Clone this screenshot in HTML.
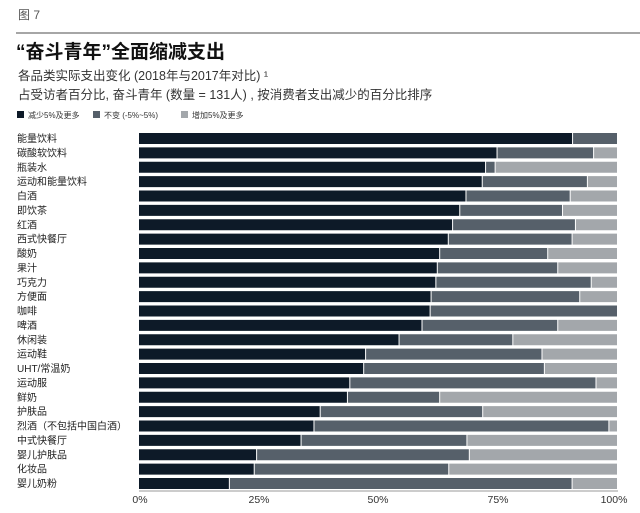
<!DOCTYPE html>
<html><head><meta charset="utf-8"><style>
body{margin:0;background:#fff;}
svg text{font-family:"Liberation Sans","Noto Sans CJK SC",sans-serif;}
</style></head><body>
<svg width="640" height="508" viewBox="0 0 640 508" xmlns="http://www.w3.org/2000/svg">
<rect width="640" height="508" fill="#fff"/>
<text x="18" y="19" font-size="12" fill="#555">图 7</text>
<line x1="16" y1="33" x2="640" y2="33" stroke="#888" stroke-width="1.5"/>
<text x="16" y="58" font-size="19" font-weight="bold" fill="#111">“奋斗青年”全面缩减支出</text>
<text x="18" y="80" font-size="12.5" fill="#333">各品类实际支出变化 (2018年与2017年对比) ¹</text>
<text x="18" y="99" font-size="12.5" fill="#333">占受访者百分比, 奋斗青年 (数量 = 131人) , 按消费者支出减少的百分比排序</text>
<rect x="17" y="111" width="7" height="7" fill="#0d1a28"/><text x="28" y="118" font-size="8" fill="#333">减少5%及更多</text>
<rect x="93" y="111" width="7" height="7" fill="#56606a"/><text x="104" y="118" font-size="8" fill="#333">不变 (-5%~5%)</text>
<rect x="181" y="111" width="7" height="7" fill="#a3a7ab"/><text x="192" y="118" font-size="8" fill="#333">增加5%及更多</text>
<g id="bars"></g>
<line x1="139" y1="491" x2="618" y2="491" stroke="#999" stroke-width="1"/>
<g font-size="10.5" fill="#333" text-anchor="middle">
<text x="140" y="503">0%</text><text x="259" y="503">25%</text><text x="378" y="503">50%</text><text x="498" y="503">75%</text><text x="614" y="503">100%</text>
</g>
</svg>
<script>
var d=[["能量饮料",90.6,100],["碳酸软饮料",74.8,95],["瓶装水",72.4,74.4],["运动和能量饮料",71.7,93.7],["白酒",68.3,90.1],["即饮茶",67,88.5],["红酒",65.5,91.2],["西式快餐厅",64.6,90.5],["酸奶",62.8,85.4],["果汁",62.3,87.5],["巧克力",62,94.5],["方便面",61,92.1],["咖啡",60.8,100],["啤酒",59.1,87.5],["休闲装",54.3,78.1],["运动鞋",47.3,84.2],["UHT/常温奶",46.9,84.7],["运动服",44,95.5],["鲜奶",43.5,62.8],["护肤品",37.8,71.8],["烈酒（不包括中国白酒）",36.5,98.2],["中式快餐厅",33.8,68.5],["婴儿护肤品",24.5,69],["化妆品",24,64.7],["婴儿奶粉",18.8,90.5]];
var x0=139,W=478,s="";
for(var i=0;i<d.length;i++){var yc=138.5+i*14.375,y=yc-5.5,a=x0+W*d[i][1]/100,b=x0+W*d[i][2]/100;
s+='<rect x="'+x0+'" y="'+y+'" width="'+(a-x0)+'" height="11" fill="#0d1a28"/>';
s+='<rect x="'+(a+1)+'" y="'+y+'" width="'+Math.max(0,b-a-1)+'" height="11" fill="#56606a"/>';
if(d[i][2]<100)s+='<rect x="'+(b+1)+'" y="'+y+'" width="'+(x0+W-b-1)+'" height="11" fill="#a3a7ab"/>';
s+='<text x="17" y="'+(yc+3.5)+'" font-size="10" fill="#222">'+d[i][0]+'</text>';}
document.getElementById("bars").innerHTML=s;
</script>
</body></html>
